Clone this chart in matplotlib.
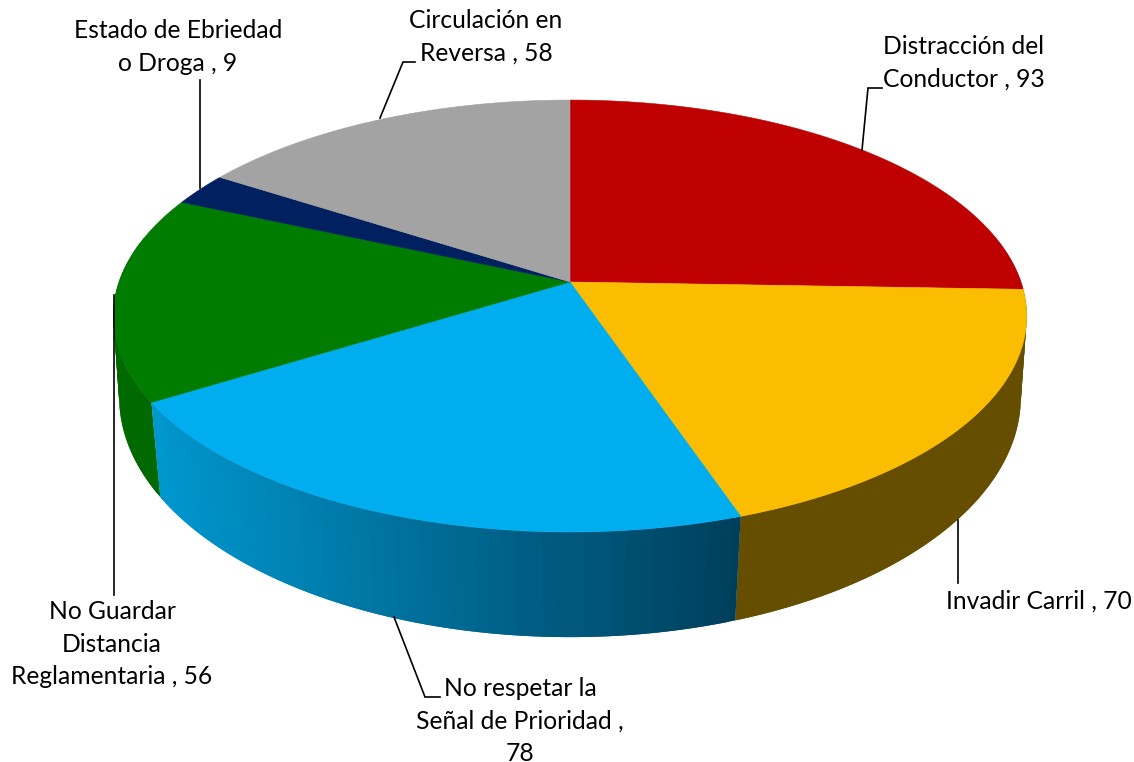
import numpy as np
import matplotlib
matplotlib.use("Agg")
import matplotlib.pyplot as plt
from matplotlib.patches import Polygon

categories = ["Distracción del\nConductor", "Invadir Carril", "No respetar la\nSeñal de Prioridad",
              "No Guardar\nDistancia\nReglamentaria", "Estado de Ebriedad\no Droga", "Circulación en\nReversa"]
values = [93, 70, 78, 56, 9, 58]
separators = [" , ", " , ", " ,\n", " , ", " , ", " , "]

top_colors = ["#bf0000", "#fbbd00", "#00aeef", "#007c00", "#002060", "#a3a3a3"]
side_colors = [None, "#664e00", None, "#006a00", None, None]

# label centres and leader lines, in picture pixels
label_pos = [(964, 63), (1039, 601), (520, 721), (112, 644), (178, 47), (486, 37)]
leaders = [[(862, 150), (868, 88), (882, 88)],
           [(958, 520), (958, 583)],
           [(394, 617), (425, 697), (440, 697)],
           [(114, 295), (114, 595)],
           [(200, 188), (200, 80)],
           [(380, 118), (403, 62), (415, 62)]]

plt.rcParams['font.family'] = ['Lato', 'DejaVu Sans']


def project(theta, a, b, k, cy, cx=570):
    # circle seen in perspective, theta clockwise from the back of the pie
    u, v = np.sin(theta), np.cos(theta)
    d = 1 + k * v
    return cx + a * u / d, cy - b * v / d


def top(theta):
    return project(theta, 451, 210.6, 0.1574, 282)


def bottom(theta):
    return project(theta, 446.6, 235.7, 0.137, 364)


def blue_side(x0, x1, x):
    # shaded by position across the wall, light on the left
    t = (x - x0) / (x1 - x0)
    c0 = np.array([0, 152, 208])
    c1 = np.array([0, 62, 90])
    return tuple((c0 + (c1 - c0) * t) / 255)


fig = plt.figure(figsize=(11.34, 7.62), dpi=100)
ax = fig.add_axes([0, 0, 1, 1])
ax.set_xlim(0, 1134)
ax.set_ylim(762, 0)
ax.axis("off")

edges = np.cumsum([0] + values) / sum(values) * 2 * np.pi

# side wall first, the top covers whatever is left over
step = np.radians(1.5)
quads = []
for i in range(len(values)):
    start, end = edges[i], edges[i + 1]
    x_a, _ = top(end)
    x_b, _ = top(start)
    for s in np.arange(start, end, step):
        e = min(s + step, end)
        mid = (s + e) / 2
        if np.cos(mid) > 0.2:
            continue
        if side_colors[i] is not None:
            col = side_colors[i]
        else:
            col = blue_side(x_a, x_b, top(mid)[0])
        # overlap a little so no seams show between the strips
        quads.append((np.cos(mid), max(s - step / 2, start), min(e + step / 2, end), col))

for q in sorted(quads, key=lambda q: -q[0]):
    th = np.linspace(q[1], q[2], 6)
    tx, ty = top(th)
    bx, by = bottom(th)
    pts = np.column_stack([np.r_[tx, bx[::-1]], np.r_[ty, by[::-1]]])
    ax.add_patch(Polygon(pts, closed=True, fc=q[3], ec="none", zorder=2))

for i in range(len(values)):
    th = np.linspace(edges[i], edges[i + 1], 200)
    tx, ty = top(th)
    pts = np.column_stack([np.r_[570, tx], np.r_[282, ty]])
    ax.add_patch(Polygon(pts, closed=True, fc=top_colors[i], ec=top_colors[i], lw=0.4, zorder=3))

for line in leaders:
    xs, ys = zip(*line)
    ax.plot(xs, ys, color="black", lw=1.2, zorder=4, solid_joinstyle="miter")

for i in range(len(values)):
    ax.text(label_pos[i][0], label_pos[i][1], categories[i] + separators[i] + str(values[i]),
            ha="center", va="center", fontsize=17.7, linespacing=1.5, color="black", zorder=5)

fig.savefig("out.png", dpi=100)
